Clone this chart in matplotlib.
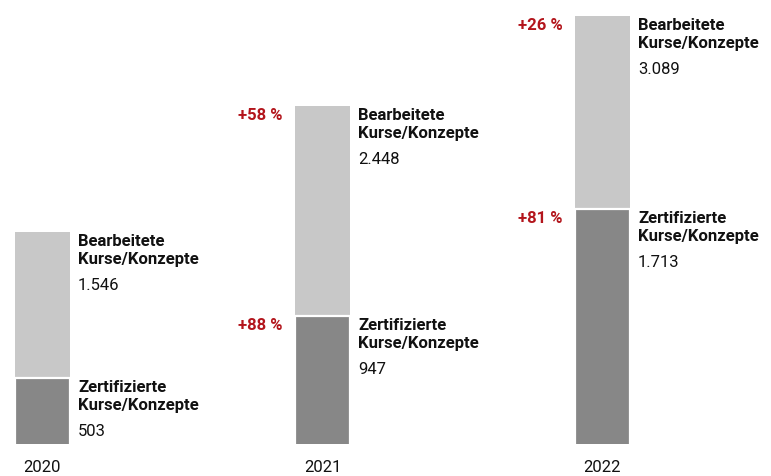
import matplotlib.pyplot as plt
import numpy as np

# Kurse/Konzepte pro Jahr
jahre = ['2020', '2021', '2022']
bearbeitet = [1546, 2448, 3089]
zertifiziert = [503, 947, 1713]
plus_bearbeitet = [None, '+58 %', '+26 %']
plus_zertifiziert = [None, '+88 %', '+81 %']

hell = '#c8c8c8'
dunkel = '#878787'
rot = '#b3151c'

plt.rcParams['font.family'] = ['Liberation Sans Narrow', 'Roboto', 'DejaVu Sans']

fig = plt.figure(figsize=(7.71, 4.77), dpi=100)
# Achse endet an der Grundlinie, die Balken werden dort abgeschnitten
ax = fig.add_axes([0, 32 / 477, 1, 445 / 477])

# Pixelraster: Balkenabstand 280 px, Breite 55 px, 0.14 px je Kurs
px_x = 280.0
px_y = 0.14
y0 = 4.4 / px_y
ax.set_xlim(-42.5 / px_x, (771 - 42.5) / px_x)
ax.set_ylim(y0, y0 + 445 / px_y)
ax.axis('off')

x = np.arange(len(jahre))
breite = 55 / px_x
rest = [b - z for b, z in zip(bearbeitet, zertifiziert)]

ax.bar(x, rest, bottom=zertifiziert, width=breite, color=hell, linewidth=0)
ax.bar(x, zertifiziert, width=breite, color=dunkel, edgecolor='white', linewidth=1.6)


def zahl(v):
    return f'{v:,}'.replace(',', '.')


def beschriftung(xi, oben, titel, wert):
    ax.annotate(titel, (xi + breite / 2, oben), xytext=(8, -1), textcoords='offset pixels',
                ha='left', va='top', fontsize=12, fontweight='bold', linespacing=1.25,
                color='#111111', annotation_clip=False)
    ax.annotate(zahl(wert), (xi + breite / 2, oben), xytext=(8, -45), textcoords='offset pixels',
                ha='left', va='top', fontsize=12, color='#111111', annotation_clip=False)


for i in range(len(jahre)):
    beschriftung(x[i], bearbeitet[i], 'Bearbeitete\nKurse/Konzepte', bearbeitet[i])
    beschriftung(x[i], zertifiziert[i], 'Zertifizierte\nKurse/Konzepte', zertifiziert[i])
    for txt, oben in ((plus_bearbeitet[i], bearbeitet[i]), (plus_zertifiziert[i], zertifiziert[i])):
        if txt:
            ax.annotate(txt, (x[i] - breite / 2, oben), xytext=(-12, -1), textcoords='offset pixels',
                        ha='right', va='top', fontsize=12, fontweight='bold', color=rot,
                        annotation_clip=False)
    ax.annotate(jahre[i], (x[i], y0), xytext=(0, -23), textcoords='offset pixels',
                ha='center', va='center', fontsize=12, color='#111111', annotation_clip=False)

fig.savefig('out.png', dpi=100)
